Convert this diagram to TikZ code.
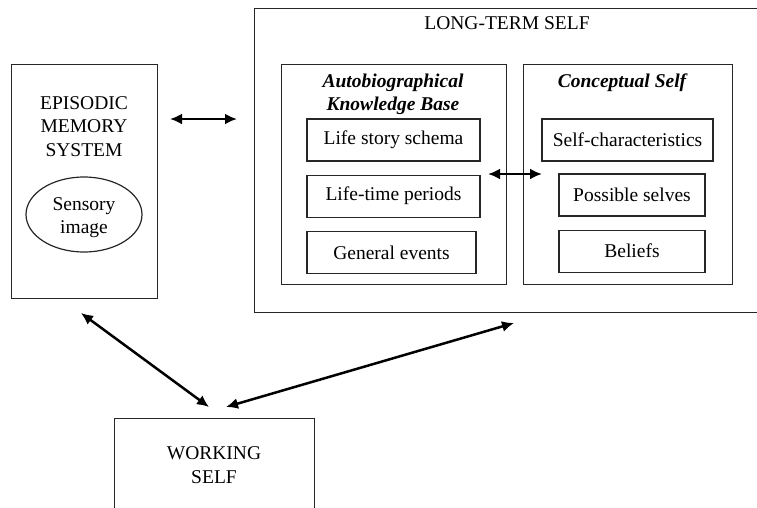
\documentclass[tikz,border=0pt]{standalone}
\usepackage{fontspec}
\setmainfont{Liberation Serif}
\usetikzlibrary{positioning, arrows.meta}
\usetikzlibrary{shapes.geometric}

\tikzset{
  box/.style={draw=black!85, line width=1.2pt, rectangle, inner sep=0pt, anchor=north west},
  item/.style={draw=black!85, line width=1.2pt, rectangle, inner sep=0pt, minimum height=42pt,
    font=\fontsize{19.5}{23.5}\selectfont},
  label_text/.style={align=center, inner sep=0pt, font=\fontsize{19.5}{23.5}\selectfont},
  title_text/.style={align=center, inner sep=0pt, font=\fontsize{19.5}{23.5}\selectfont\bfseries\itshape},
  link/.style={<->, >={Latex[length=12pt,width=11pt]}, line width=2.5pt},
}

\begin{document}
\begin{tikzpicture}[x=1pt, y=-1pt]
	\clip (0,0) rectangle (757,507);

	% --- Begin Episodic Memory Node ---
	\node [box, minimum width=146pt, minimum height=234pt] (episodic) at (11,64) {};
	\node [label_text] (episodic_title) at (84,126.5) {EPISODIC\\MEMORY\\SYSTEM};
	\node [draw=black!85, line width=1.2pt, ellipse, minimum width=116pt, minimum height=75pt, inner sep=0pt] (sensory) at (84,214.5) {};
	\node [label_text] (sensory_text) at (84,217.5) {Sensory\\image};
	% --- End Episodic Memory Node ---

	% --- Begin Long-Term Self Node ---
	\node [box, minimum width=506pt, minimum height=304pt] (longterm) at (254,8) {};
	\node [label_text] (longterm_title) at (507,23) {LONG-TERM SELF};

	% Autobiographical knowledge base with its three levels
	\node [box, minimum width=225pt, minimum height=220pt] (autobio) at (281,64) {};
	\node [title_text] (autobio_title) at (393,94.5) {Autobiographical\\Knowledge Base};
	\node [item, minimum width=173pt] (life_story) at (393.5,140) {Life story schema};
	\node [item, minimum width=173pt, below=13pt of life_story] (life_time) {Life-time periods};
	\node [item, minimum width=169pt, below=13pt of life_time.south west, anchor=north west] (general_events) {General events};

	% Conceptual self
	\node [box, minimum width=209pt, minimum height=220pt] (conceptual) at (523,64) {};
	\node [title_text] (conceptual_title) at (622,82.5) {Conceptual Self};
	\node [item, minimum width=171pt] (self_char) at (627.5,140) {Self-characteristics};
	\node [item, minimum width=146pt] (possible) at (632,195) {Possible selves};
	\node [item, minimum width=146pt, below=13pt of possible] (beliefs) {Beliefs};
	% --- End Long-Term Self Node ---

	% --- Begin Working Self Node ---
	\node [box, minimum width=200pt, minimum height=120pt] (working) at (114,418) {};
	\node [label_text] (working_title) at (214,465) {WORKING\\SELF};
	% --- End Working Self Node ---

	% Free ends of the arrows
	\coordinate (ep_right) at (170,119);
	\coordinate (lt_left) at (237,119);
	\coordinate (kb_right) at (488,174);
	\coordinate (cs_left) at (542,174);
	\coordinate (ep_below) at (81,313);
	\coordinate (ws_left) at (209,407);
	\coordinate (ws_right) at (226,407);
	\coordinate (lt_below) at (514,323);

	\draw [link] (ep_right) -- (lt_left);
	\draw [link] (kb_right) -- (cs_left);
	\draw [link] (ep_below) -- (ws_left);
	\draw [link] (ws_right) -- (lt_below);
\end{tikzpicture}
\end{document}
